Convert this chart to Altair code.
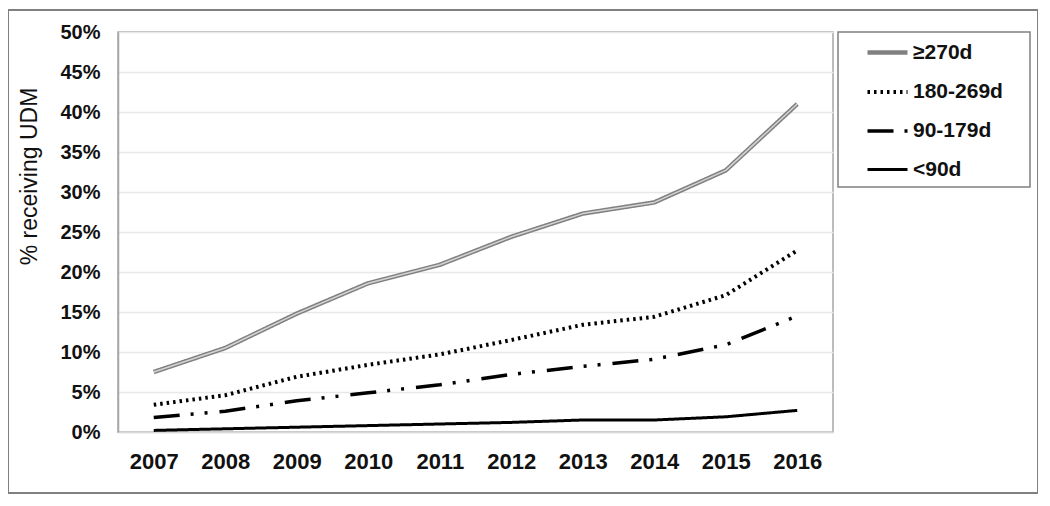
import altair as alt
import pandas as pd

years = [2007, 2008, 2009, 2010, 2011, 2012, 2013, 2014, 2015, 2016]
series_names = ["≥270d", "180-269d", "90-179d", "<90d"]
ge270 = [7.5, 10.5, 14.8, 18.6, 20.9, 24.4, 27.3, 28.7, 32.7, 41.0]
d180_269 = [3.4, 4.6, 6.9, 8.4, 9.7, 11.5, 13.4, 14.4, 17.1, 22.7]
d90_179 = [1.8, 2.6, 3.9, 4.9, 5.9, 7.2, 8.2, 9.1, 10.9, 14.5]
lt90 = [0.2, 0.4, 0.6, 0.8, 1.0, 1.2, 1.5, 1.5, 1.9, 2.7]
y_ticks = [0, 5, 10, 15, 20, 25, 30, 35, 40, 45, 50]

rows = []
for name, vals in zip(series_names, [ge270, d180_269, d90_179, lt90]):
    for yr, v in zip(years, vals):
        rows.append({"year": yr, "series": name, "pct": v})
df = pd.DataFrame(rows)

FONT = "Liberation Sans"

x_axis = alt.Axis(
    title=None, labelAngle=0, labelFontSize=22, labelFontWeight="bold",
    labelColor="#111111", labelPadding=19, ticks=False, domainColor="#d9d9d9",
    domainWidth=1.5, grid=False)
y_axis = alt.Axis(
    values=y_ticks, labelExpr="datum.value + '%'", labelFontSize=20,
    labelFontWeight="bold", labelColor="#111111", labelPadding=18, ticks=False,
    labelOverlap=False, tickCount=11,
    domainColor="#a6a6a6", domainWidth=1.5, gridColor="#e8e8e8", gridWidth=1.5,
    title="% receiving UDM", titleFontSize=23, titleFontWeight="normal",
    titleColor="#111111", titleAngle=270, titleX=-89, titleY=144,
    titleAlign="center", titleBaseline="middle")
y_scale = alt.Scale(domain=[0, 50], nice=False)

legend = alt.Legend(
    title=None, orient="none", legendX=747, legendY=-2, symbolType="stroke",
    symbolSize=1600, labelFontSize=21, labelFontWeight="bold",
    labelColor="#111111", labelOffset=3, rowPadding=7, padding=0)

base = alt.Chart(df).mark_line(strokeJoin="round").encode(
    x=alt.X("year:O", axis=x_axis),
    y=alt.Y("pct:Q", scale=y_scale, axis=y_axis),
    color=alt.Color("series:N", scale=alt.Scale(
        domain=series_names, range=["#808080", "#000000", "#000000", "#000000"]),
        legend=legend),
    strokeDash=alt.StrokeDash("series:N", scale=alt.Scale(
        domain=series_names,
        range=[[1, 0], [2.5, 4], [26, 11, 3, 11, 3, 12], [1, 0]]), legend=legend),
    strokeWidth=alt.StrokeWidth("series:N", scale=alt.Scale(
        domain=series_names, range=[4.5, 3, 3.5, 3.5]), legend=legend),
)

inner = alt.Chart(df[df["series"] == "≥270d"]).mark_line(
    strokeJoin="round", color="#d4d4d4", strokeWidth=1.5).encode(
    x=alt.X("year:O", axis=x_axis),
    y=alt.Y("pct:Q", scale=y_scale, axis=y_axis))

frame_df = pd.DataFrame({"k": [0]})
outer_frame = alt.Chart(frame_df).mark_rect(
    fill=None, stroke="#808080", strokeWidth=2).encode(
    x=alt.value(-110), x2=alt.value(920), y=alt.value(-22), y2=alt.value(461))
legend_frame = alt.Chart(frame_df).mark_rect(
    fill=None, stroke="#808080", strokeWidth=1.5).encode(
    x=alt.value(720), x2=alt.value(912), y=alt.value(0), y2=alt.value(155))

chart = alt.layer(outer_frame, legend_frame, base, inner).properties(
    width=715, height=400,
    autosize=alt.AutoSizeParams(type="none"),
    padding={"left": 110, "top": 24, "right": 205, "bottom": 64},
).configure(font=FONT, background="white").configure_view(
    stroke="#a6a6a6", strokeWidth=1.5)

chart.save("out.html", embed_options={"renderer": "svg", "actions": False})
